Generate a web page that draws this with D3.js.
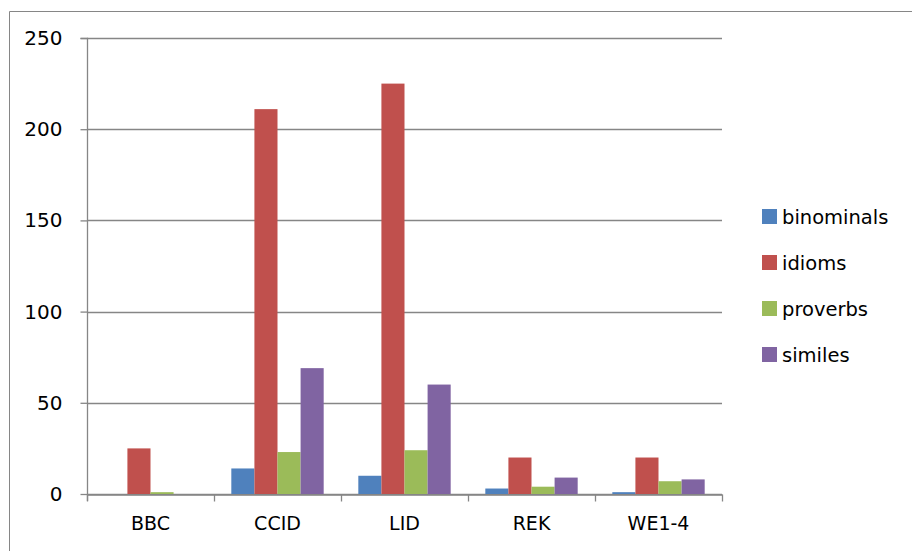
<!DOCTYPE html>
<html>
<head>
<meta charset="utf-8">
<script src="https://cdn.jsdelivr.net/npm/d3@7"></script>
<style>
  html, body { margin: 0; padding: 0; background: #fff; }
  svg { display: block; }
  text { font-family: "DejaVu Sans", sans-serif; fill: #000; }
</style>
</head>
<body>
<svg id="chart" width="912" height="551"></svg>
<script>
// Dictionary sources and counts of each expression type
const categories = ["BBC", "CCID", "LID", "REK", "WE1-4"];
const seriesNames = ["binominals", "idioms", "proverbs", "similes"];
const binominals = [0, 14, 10, 3, 1];
const idioms = [25, 211, 225, 20, 20];
const proverbs = [1, 23, 24, 4, 7];
const similes = [0, 69, 60, 9, 8];
const yTicks = [0, 50, 100, 150, 200, 250];
const colors = ["#4F81BD", "#C0504D", "#9BBB59", "#8064A2"];

const seriesValues = [binominals, idioms, proverbs, similes];

const svg = d3.select("#chart");
const margin = { left: 87, right: 722, top: 38, bottom: 494 };
const gridColor = "#868686";
const fontFamily = "'DejaVu Sans', sans-serif";

// outer frame of the chart area
svg.append("path")
  .attr("d", "M9.5,551 L9.5,11.5 L912,11.5")
  .attr("fill", "none")
  .attr("stroke", gridColor)
  .attr("stroke-width", 1);

const y = d3.scaleLinear().domain([0, 250]).range([margin.bottom, margin.top]);
const x0 = d3.scaleBand().domain(categories).range([margin.left, margin.right]).paddingInner(0).paddingOuter(0);
// gap between clusters is 150% of a bar width
const barW = x0.bandwidth() / 5.5;
const x1 = d3.scaleBand().domain(seriesNames)
  .range([barW * 0.75, barW * 4.75]).padding(0);

// horizontal gridlines
svg.append("g").selectAll("line")
  .data(yTicks)
  .join("line")
  .attr("x1", margin.left)
  .attr("x2", margin.right)
  .attr("y1", d => Math.round(y(d)) + 0.5)
  .attr("y2", d => Math.round(y(d)) + 0.5)
  .attr("stroke", gridColor)
  .attr("stroke-width", 1.3);

// bars
const groups = svg.append("g").selectAll("g")
  .data(categories)
  .join("g")
  .attr("transform", d => `translate(${x0(d)},0)`);

groups.selectAll("rect")
  .data((c, ci) => seriesNames.map((s, si) => ({ s, si, v: seriesValues[si][ci] })))
  .join("rect")
  .attr("x", d => x1(d.s))
  .attr("width", x1.bandwidth())
  .attr("y", d => y(d.v))
  .attr("height", d => y(0) - y(d.v))
  .attr("fill", d => colors[d.si]);

// y axis
const yAxis = d3.axisLeft(y).tickValues(yTicks).tickSize(7).tickPadding(18);
const gy = svg.append("g")
  .attr("transform", `translate(${margin.left + 0.5},0)`)
  .call(yAxis);
gy.select(".domain").attr("stroke", gridColor).attr("stroke-width", 1.3)
  .attr("d", `M-7,${y(250) + 0.5}H0V${y(0) + 7}`);
gy.selectAll(".tick line").attr("stroke", gridColor).attr("stroke-width", 1.3);
gy.selectAll(".tick text").attr("font-size", 20).attr("font-family", fontFamily).attr("fill", "#000");

// x axis
const xAxis = d3.axisBottom(x0).tickSize(0).tickPadding(22);
const gx = svg.append("g")
  .attr("transform", `translate(0,${Math.round(y(0)) + 0.5})`)
  .call(xAxis);
gx.select(".domain").attr("stroke", gridColor).attr("stroke-width", 1.3);
gx.selectAll(".tick text").attr("font-size", 19).attr("font-family", fontFamily).attr("fill", "#000");
// category boundary tick marks
gx.append("g").selectAll("line")
  .data(categories.map(c => x0(c)).concat([margin.right]))
  .join("line")
  .attr("x1", d => Math.round(d) + 0.5)
  .attr("x2", d => Math.round(d) + 0.5)
  .attr("y1", 0)
  .attr("y2", 7)
  .attr("stroke", gridColor)
  .attr("stroke-width", 1.3);

// legend
const legend = svg.append("g").attr("transform", "translate(762,209)");
const items = legend.selectAll("g")
  .data(seriesNames)
  .join("g")
  .attr("transform", (d, i) => `translate(0,${i * 46})`);
items.append("rect")
  .attr("width", 15).attr("height", 15)
  .attr("fill", (d, i) => colors[i]);
items.append("text")
  .attr("x", 20).attr("y", 7.5)
  .attr("dy", "0.36em")
  .attr("font-size", 19.5)
  .text(d => d);
</script>
</body>
</html>
